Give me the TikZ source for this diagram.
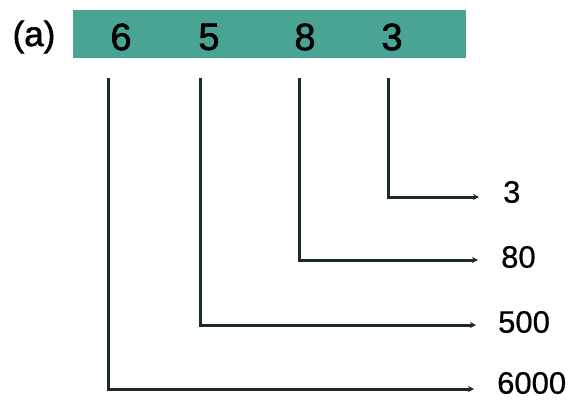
\documentclass[tikz,border=0pt]{standalone}
\usepackage{fontspec}
\setmainfont{Liberation Sans}
\newfontfamily\semibold[FakeBold=1.6]{Liberation Sans}
\newfontfamily\labfont[FakeBold=0.6]{Liberation Sans}
\usetikzlibrary{arrows.meta}
\definecolor{barteal}{RGB}{74,164,148}
\definecolor{inkline}{RGB}{28,44,38}
\begin{document}
\begin{tikzpicture}[x=1pt,y=-1pt,
  digit/.style={font=\semibold\fontsize{38}{40}\selectfont, text=black, inner sep=0pt},
  lab/.style={font=\labfont\fontsize{31}{33}\selectfont, text=black, inner sep=0pt, anchor=west},
  conn/.style={draw=inkline, line width=3pt, -{Stealth[length=6pt,width=6pt]}}]
\useasboundingbox (0,0) rectangle (581,405);
\fill[white] (0,0) rectangle (581,405);
% bar
\node[fill=barteal, minimum width=393pt, minimum height=48pt, inner sep=0pt, anchor=north west] (bar) at (73,10) {};
\node[font=\semibold\fontsize{35}{37}\selectfont, inner sep=0pt] (lbl) at (34,37) {(a)};
\node[digit] (d6) at (121,37) {6};
\node[digit] (d5) at (209,37) {5};
\node[digit] (d8) at (305,37) {8};
\node[digit] (d3) at (392,37) {3};
% labels
\node[lab] (l3) at (503,192) {3};
\node[lab] (l80) at (501,257) {80};
\node[lab] (l500) at (498,322) {500};
\node[lab] (l6000) at (497,383) {6000};
% connector start / end points
\coordinate (s3) at (388,78);
\coordinate (s8) at (299,78);
\coordinate (s5) at (200,78);
\coordinate (s6) at (108,78);
\coordinate (e3) at (479,197);
\coordinate (e8) at (478,260);
\coordinate (e5) at (476,325);
\coordinate (e6) at (474,389);
\draw[conn] (s3) |- (e3);
\draw[conn] (s8) |- (e8);
\draw[conn] (s5) |- (e5);
\draw[conn] (s6) |- (e6);
\end{tikzpicture}
\end{document}
